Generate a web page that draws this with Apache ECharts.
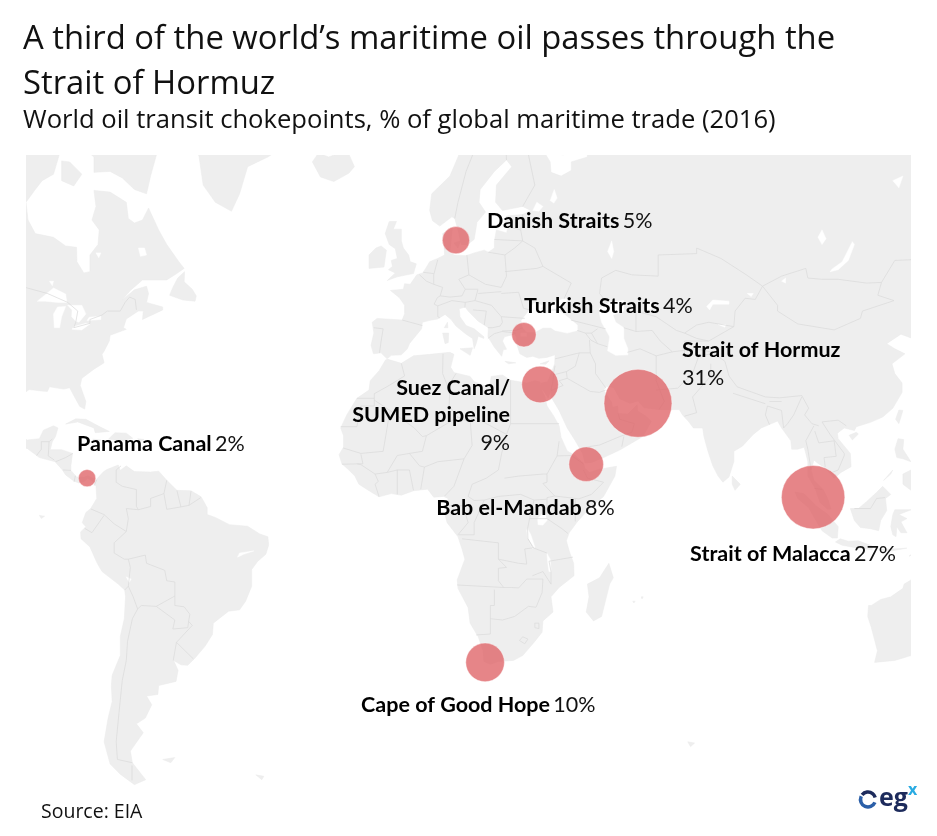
<!doctype html>
<html>
<head>
<meta charset="utf-8">
<style>html,body{margin:0;padding:0;background:#fff}#main{width:937px;height:836px}</style>
</head>
<body>
<div id="main"></div>
<script src="https://cdn.jsdelivr.net/npm/echarts@6/dist/echarts.min.js"></script>
<script>
// chokepoint data
var pointNames = ['Danish Straits', 'Turkish Straits', 'Strait of Hormuz', 'Suez Canal/\nSUMED pipeline', 'Panama Canal', 'Bab el-Mandab', 'Strait of Malacca', 'Cape of Good Hope'];
var pointShares = [5, 4, 31, 9, 2, 8, 27, 10];
var pointLons = [11.5, 28.3, 56.5, 32.3, -79.7, 43.7, 99.8, 18.7];
var pointLats = [56.1, 40.7, 26.6, 30.7, 9, 12.4, 4.3, -34.4];

// label placement relative to the bubble centre: dx, dy, align, share on own line
var labelPlacement = [
    [31, -19, 'left', false], [0, -29, 'left', false], [44, -39, 'left', true], [-30, 31, 'right', true],
    [-10, -34, 'left', false], [-150, 44, 'left', false], [-123, 57, 'left', false], [-124, 43, 'left', false]
];

// base map, rough outlines in lon/lat
var americas = [[-110,72],[-95,70],[-88,68],[-86.6,66.2],[-88,64.2],[-90.8,63.5],[-92.5,62.5],[-94.8,61],[-94.3,58.8],[-92.5,57],[-88,56.5],[-85,55.3],[-82.3,55.1],[-82.2,53],[-80.5,51.3],[-79,51.5],[-79,54],[-77,55.5],[-76.7,57.5],[-78.5,58.8],[-77.5,60.5],[-78,62.4],[-74,62.2],[-70,61],[-69.5,59],[-68,58.4],[-66,58.8],[-64.5,60.3],[-62,57.5],[-60,55.5],[-57,53],[-55.7,52],[-58,51],[-60,50.2],[-66,50.2],[-69,48.5],[-71,46.9],[-68,48.6],[-65,49.2],[-64.5,48],[-65,46.5],[-61,45.7],[-61,45.2],[-66,43.5],[-65.8,45],[-67,45],[-70,43.6],[-70.7,42],[-70,41.7],[-74,40.6],[-74.2,39.5],[-75.5,37.5],[-76,36.9],[-75.5,35.2],[-78,33.9],[-81,32],[-81.4,30.5],[-80,27],[-80.3,25.3],[-81.5,25.9],[-82.8,28],[-84,30],[-85.5,29.7],[-89,30.2],[-89.5,29.2],[-91,29.3],[-94,29.6],[-97,27.8],[-97.5,25],[-97.8,22.4],[-96,19],[-94.5,18.2],[-91.5,18.5],[-90.5,20.5],[-88,21.5],[-86.9,21],[-87.5,19],[-88.3,17.8],[-88.8,15.9],[-86,15.9],[-83.3,15],[-83.7,12],[-83.7,10.9],[-82.3,9.3],[-80.5,9.2],[-79.5,9.6],[-77.5,8.6],[-75.6,10.6],[-74.8,11.1],[-72,12.2],[-71.5,10.9],[-70,12],[-68,10.6],[-64,10.5],[-62,10.7],[-60,8.5],[-57.5,6],[-54,5.9],[-51.5,4.4],[-50,1.7],[-50,0],[-48,-0.7],[-44.5,-2.5],[-40,-2.9],[-37,-4.8],[-35,-5.5],[-34.8,-7.5],[-35.5,-9.8],[-37.5,-11.5],[-39,-13.5],[-39,-17.5],[-40.5,-21],[-42,-23],[-44.7,-23.3],[-48.5,-26],[-48.7,-28.5],[-50.5,-31],[-53,-33.5],[-54.8,-35],[-56.5,-34.9],[-58.3,-34],[-57.2,-36],[-57.7,-38.2],[-62,-39],[-62.2,-40.7],[-65,-41],[-63.7,-42.6],[-65.3,-45],[-67.5,-46],[-65.8,-47.5],[-69,-50.5],[-68.5,-52.3],[-65.2,-54.8],[-68,-55.5],[-71.5,-54],[-74,-52.5],[-75.5,-49],[-74.5,-45],[-73.5,-42],[-73.7,-39],[-73.5,-37],[-71.5,-33],[-71.5,-29],[-70.5,-25],[-70.2,-20],[-70.4,-18.4],[-72,-17],[-76,-14],[-77.2,-12],[-79,-8],[-81.2,-6],[-81.3,-4.3],[-80,-3],[-80.9,-2],[-80,0.5],[-78.8,1.5],[-77.3,4],[-77.5,7],[-78.5,8.4],[-79.6,8.9],[-80.4,8.2],[-81.7,7.8],[-83,8.3],[-85,9.8],[-85.8,11],[-87.6,13],[-91.5,14],[-94.5,16.2],[-100,16.5],[-110,25]];
var africa = [[-5.9,35.8],[-5.3,35.9],[-2,35.1],[1,36.6],[5,36.9],[10,37.3],[11,36.9],[10.2,34.3],[11,33.2],[15,32.4],[16,31.3],[19,30.3],[20,31],[20.2,32.4],[23,32.7],[25,31.6],[29,31],[31,31.5],[32.3,31.2],[32.5,30],[33.5,28],[34,26],[35.5,24],[37,21.5],[37.5,18.8],[39,15.6],[41,14.5],[43.1,12.6],[43.3,11.5],[44.5,10.4],[47,11.2],[51.2,11.9],[50.8,9.5],[48,4.5],[44,1],[41.5,-1.8],[39.5,-4.5],[38.8,-6.5],[39.5,-9],[40.6,-12],[40.7,-15],[37,-17.8],[35,-20],[35.5,-23.5],[33,-25.5],[32.8,-28],[31,-30],[28,-33],[25.7,-34],[22,-34.2],[20,-34.8],[18.4,-34.2],[18.2,-32],[17,-29],[15,-26],[14.5,-22.5],[12,-18],[11.8,-16],[13.7,-11],[13,-8.5],[12,-5.5],[9.3,-2],[8.8,0],[9.8,2],[9.5,4],[8.5,4.5],[6,4.3],[4.5,6.3],[1,5.9],[-2,4.8],[-4.5,5.2],[-7.5,4.4],[-9.5,5.6],[-12.5,7.5],[-13.5,9.5],[-15,11],[-16.7,12.5],[-17.4,14.7],[-16.3,16.5],[-16.3,19.2],[-17,21],[-15.5,24],[-13,27.7],[-10,29.5],[-9.7,31.5],[-7.5,33.6]];
var eurasia = [[32.6,30],[34.3,27.8],[35,29.5],[35,28],[37,25],[39,21],[41,18],[42.8,15],[43.4,12.7],[45,12.8],[48,14],[52,15.8],[55,17.5],[57.7,19],[59.8,22.5],[58.5,23.7],[56.4,24.9],[56.3,26.3],[55.2,25.3],[54,24.2],[51.6,24.3],[51.5,26],[50.2,25.7],[50,26.8],[48,29.5],[48.8,30.3],[50.5,30],[52,27.6],[54.5,26.6],[56.5,27.1],[58,25.6],[61.5,25.2],[64.5,25.2],[66.7,25.2],[67.5,24],[69,22.5],[70.2,21],[72.5,21],[72.8,19],[73.8,15.5],[75,12],[76.3,9.5],[77.5,8],[79,9.3],[80.2,13],[80.2,15.5],[82.3,16.7],[85,19.5],[87,21],[89,21.8],[91,22.6],[92,21],[94.3,18],[94.5,16],[96,16],[97.6,16.5],[98.5,13],[98.5,9.5],[100.3,6.5],[101.5,3],[103.4,1.3],[104.2,1.4],[103.4,4],[102.3,6.2],[100,8.5],[99.3,11],[100,13.4],[101,12.6],[102.8,11.5],[105,9],[106.7,10.4],[109.2,11.8],[109,15],[106,18.5],[105.8,19.8],[107.5,21],[110,20.4],[110.5,21.3],[114,22.3],[117,23.5],[119.5,25.5],[121.8,29],[121.8,31],[120,33],[119.3,35],[122.5,37],[120,38],[118,39],[121.5,40.8],[124.3,40],[125.2,38],[126.5,37],[126.5,34.5],[129.5,35.2],[129.5,37],[127.5,39.8],[130,42.5],[135,44],[140,48],[141,53],[137,54],[135,55],[142,59],[150,59.5],[160,61],[165,66],[180,66],[180,72],[60,72],[44,68],[44,66],[40,65.5],[40,64.6],[37.5,64],[35,64.4],[34.8,65.5],[33,66.7],[38,66.2],[41,66.7],[41,69],[33,69.5],[25,71],[15,69],[12,66],[10,64],[5.5,62],[5,60],[5.7,58.7],[7.5,58],[10.5,59.2],[11.2,59],[12,57.5],[12.8,55.5],[14.3,55.5],[16,56.2],[16.7,58.5],[18.8,59.8],[17.2,61],[17.5,62.5],[21,64.5],[24,65.7],[25.3,65],[21.5,63],[21.3,61],[23,60],[25,60.2],[28,60.5],[30,60],[28,59.5],[24,59.3],[23.5,58.5],[24.4,57.9],[24,57.1],[21.5,57.5],[21,56],[21,55],[19.5,54.4],[18.5,54.7],[16,54.3],[14,53.9],[11,54],[10,54.5],[10.3,56],[10.6,57.7],[8.2,57],[8.6,55],[8.7,54],[7,53.5],[5,53],[4,52],[3.3,51.3],[1.8,51],[0.2,49.5],[-1.2,49.6],[-1.5,48.7],[-4.7,48.5],[-2.5,47.3],[-1.2,46],[-1.2,44.5],[-1.8,43.4],[-8,43.7],[-9.2,43],[-8.8,41],[-9.5,38.7],[-8.9,37],[-7,37.2],[-6.3,36.6],[-5.5,36],[-4.5,36.7],[-2,36.8],[-0.5,38],[0,39],[3,41.8],[3.2,43],[4.8,43.3],[7,43.6],[8.8,44.4],[10.3,43.5],[11.5,42.3],[14,40.8],[15.6,40],[16,38],[16.5,39],[17,40.4],[18.4,40],[18.4,40.3],[16,41.8],[14,42.4],[12.5,44],[12.3,45.4],[13.8,45.7],[14.5,45],[17,43.2],[19.5,42],[19.4,40.3],[21,38.3],[22.8,36.5],[23.2,37.8],[24,37.9],[23,39.5],[23.5,40.3],[26,40.8],[26.5,40.2],[26.5,39],[27.3,37],[29,36.3],[30.5,36.5],[32,36.1],[34,36.3],[36,36.8],[35.9,35],[35,33],[34.2,31.3],[32.6,31]];
var greenland = [[-55,70],[-52,66],[-51,63],[-48,61],[-44,59.9],[-42,62],[-40,65],[-35,66],[-25,68.5],[-22,70],[-40,75]];
var islands = [
    [[-85,72],[-78,70],[-66,70],[-62,67],[-64,64],[-65,62],[-68,62.5],[-71,63.8],[-74,64.5],[-78,64.4],[-78,66],[-84,68]],
    [[-86,65.6],[-84,65.5],[-81,64.2],[-83,62.9],[-86,63.5]],
    [[-59.3,47.7],[-56,46.9],[-53,46.7],[-52.7,47.6],[-53.7,48.7],[-55.7,49.9],[-55.6,51.5],[-57.3,50.5],[-58.5,49]],
    [[-24,65.5],[-22,63.9],[-18.7,63.4],[-15,64.3],[-13.6,65],[-15,66.3],[-16.5,66.5],[-20,66],[-22.5,66.4]],
    [[-85,21.9],[-82.5,23.1],[-80,23],[-77,21.5],[-74.2,20.2],[-77.7,19.9],[-78,21],[-82,22.4]],
    [[-74.4,18.4],[-72.8,19.9],[-70,19.8],[-68.4,18.6],[-71,18],[-72,18.1]],
    [[-78.3,18.4],[-76.3,18.2],[-77,17.8]],
    [[-67.2,18.5],[-65.6,18.3],[-66.5,17.9]],
    [[-61,-51.8],[-58,-51.5],[-59,-52.3]],
    [[-38,-54.1],[-36,-54.3],[-36.5,-54.8]],
    [[-91.5,-0.2],[-90.2,-0.4],[-91,-1]],
    [[-5.5,50.1],[-3,50.7],[1,51.2],[1.7,52.7],[0.2,53],[-0.2,54],[-1.5,55],[-2,56],[-2,57.6],[-4,57.6],[-3.2,58.6],[-5,58.6],[-6,57],[-5,55.5],[-3.5,54.9],[-3,53.5],[-4.5,53.2],[-4.2,52.3],[-5.2,51.8],[-3.5,51.3]],
    [[-10,52],[-6.3,52.2],[-6,53.5],[-5.7,54.7],[-7,55.3],[-8.3,55],[-10,54]],
    [[12.5,38],[15.6,38.2],[15,36.7]],
    [[8.2,41],[9.7,41],[9.6,39.2],[8.8,39]],
    [[8.6,42],[9.4,43],[9.5,42]],
    [[23.6,35.5],[26.3,35.2],[24.5,35]],
    [[32.3,35],[34.5,35.6],[33.7,34.9]],
    [[11,55.7],[12.6,56],[12,55]],
    [[49.3,-12],[50.4,-15.5],[49.5,-17],[47.5,-24.5],[45.5,-25.5],[43.7,-23.5],[44.4,-20],[44,-17],[47,-15.5]],
    [[55.2,-21],[55.8,-21],[55.5,-21.4]],
    [[57.3,-20],[57.8,-20],[57.5,-20.5]],
    [[68.8,-49],[70.5,-49.2],[69.5,-49.8]],
    [[79.8,9.5],[81.8,7.5],[80.5,6],[79.8,7.5]],
    [[108.7,19.3],[110.5,20],[111,19.6],[109.5,18.2]],
    [[120.2,23],[121,25.1],[122,25],[121,22]],
    [[120,16],[120.8,18.5],[122.2,18.3],[122,16],[124,13],[122,13.7],[120.5,14]],
    [[122,10],[124,11],[126,9.5],[126,6.5],[124,6],[122,7.5]],
    [[117.2,8.4],[119.5,11],[119,10]],
    [[95.3,5.6],[97.5,5.2],[100.5,2.2],[103.5,0],[106,-3],[105.8,-5.8],[104.5,-5.8],[102,-4],[100.5,-1.5],[98.7,1.7],[96,4]],
    [[105.3,-6.8],[106.5,-6],[108.5,-6.6],[111,-6.5],[114.5,-7.8],[114.4,-8.7],[111,-8.3],[107,-7.6]],
    [[109,1.5],[111,1.5],[113,3.2],[115.5,5.5],[117,7],[119,5],[117.7,4],[118,1],[116.5,-1.5],[116,-4],[114,-3.5],[111.5,-3.2],[110,-1.5]],
    [[119.5,0],[120,1.2],[124,1.2],[121,0],[123,-1],[121.5,-1.8],[123,-4.5],[121.5,-4.5],[120.5,-3],[120.3,-5.5],[119.5,-5],[119,-3]],
    [[116,-8.7],[119,-8.5],[123,-8.3],[119,-9]],
    [[123.5,-10.3],[127,-8.4],[125,-9]],
    [[113.5,-22],[114.2,-22],[116.5,-20.6],[119,-20],[122,-18],[122.3,-17],[124,-16],[126,-14],[130,-12],[135,-12],[140,-17],[142,-11],[146,-19],[153,-26],[150,-37],[145,-39],[138,-35],[135,-34.5],[131,-31.5],[124,-33],[120,-34],[115,-34.4],[115.7,-32],[114.2,-27],[113.3,-24.5]]
];
// seas and lakes cut out of the land
var waters = [
    [[28,42],[27.7,43.3],[29.7,45.2],[30.7,46.4],[33,46],[32.5,45.4],[33.5,44.5],[35.4,45],[37,45],[38.5,44.3],[41.5,42.5],[41.5,41.5],[39,41],[36,41.5],[35,42],[33,42],[31,41.2],[29,41.2]],
    [[35,45.4],[35,46.3],[38,47.1],[39.3,47.1],[37.5,45.5]],
    [[27.5,40.4],[29,40.4],[29,41],[27.5,41]],
    [[47,45.5],[49,46.5],[53,46.8],[53,45],[51,44.5],[50.3,44.3],[51,43],[53,42],[53,40],[54,38],[54,36.8],[51,36.7],[49,37.6],[49.5,40.3],[47.5,43],[47,44.5]],
    [[58.5,46.5],[60,46.5],[60,45.5],[58.5,45]],
    [[73.5,45.8],[75,46.9],[79,46.7],[79,46.2],[75,46.2],[74.2,45.2]],
    [[83.5,48],[85,48],[84.5,47.5]],
    [[76.3,42.6],[78.2,42.6],[78,42.1]],
    [[104,51.5],[104.5,51.9],[107,53],[109.5,55.9],[110,55.5],[108.5,53.2],[106,51.8]],
    [[101,56.5],[102,57.5],[103,56.3],[102,55.5]],
    [[92,50],[93,50.5],[93,49.7]],
    [[119.5,63.5],[122,64],[121,62.7]],
    [[49,54.5],[50,56],[50.5,54.5],[50,53.5]],
    [[30.5,60],[31.5,61],[33,60.5],[32,59.9]],
    [[34.8,61.2],[35.8,62.5],[36.5,61.5],[35.7,60.9]],
    [[-67,55],[-65.5,55],[-65,54],[-66.5,53.8]],
    [[-77.5,54.3],[-76.3,54.3],[-76.8,53.6]],
    [[-89,50],[-88,50],[-88.3,49.3]],
    [[-92,46.7],[-88,48.9],[-85,47.9],[-84.7,46.5],[-87,46.5],[-90,46.7]],
    [[-87.8,42],[-86.5,42],[-86,44],[-85,45.8],[-87,45.7],[-88,44.5]],
    [[-84.5,46],[-81,46],[-80,44.5],[-81.7,43],[-82.5,43.2],[-83.5,44],[-83.4,45.2]],
    [[-83.4,41.7],[-81,41.6],[-79,42.7],[-80,42.8],[-83,42.2]],
    [[-79.7,43.3],[-76.3,43.5],[-76.3,44.1],[-79.2,43.9]],
    [[-70,-15.3],[-68.8,-15.8],[-69.3,-16.6]],
    [[-38.5,-9],[-42,-9.5],[-42.5,-10.5],[-41,-9.8]],
    [[31.7,-1],[33,0.3],[34.2,0],[34,-1.5],[33,-2.6],[31.8,-2.5]],
    [[29.2,-3.5],[30,-5],[31,-8],[30.5,-8.5],[29.3,-6],[29,-4]],
    [[34,-9.6],[34.8,-11],[35,-14],[34.5,-14],[34.2,-12]]
];
var borders = [
    [[-95,49],[-89.5,48],[-84.5,46.5],[-82,45],[-82.5,43],[-83,42],[-79,42.8],[-79,43.5],[-76,44.3],[-74.7,45],[-71.5,45],[-70.3,46.5],[-69.2,47.4],[-67.8,47],[-67.5,45.2]],
    [[-92.2,14.5],[-91,16],[-91,17.8],[-89.1,17.8],[-88.3,18.4]], [[-89.1,17.8],[-89.2,15.9],[-89.3,14.4],[-87.8,13.4]],
    [[-87.5,13],[-85,14],[-83.2,15]], [[-85.7,11],[-83.7,10.9]], [[-82.9,8.1],[-82.6,9.6]], [[-77.9,7.2],[-77.3,8.6]],
    [[-71.3,12],[-72.5,11],[-72.5,8],[-71,7],[-67.5,6.2],[-67.5,2],[-67,1.2],[-70,1.5],[-69.5,-1],[-70,-4.2],[-73,-2.3],[-75.5,0],[-78.8,1.4]],
    [[-75.5,-0.2],[-78.5,-4.5],[-80.3,-3.4]], [[-70,-4.2],[-73,-7],[-73,-9.5],[-70.5,-11],[-69.5,-11],[-69,-13],[-69.5,-17.5],[-70.4,-18.4]],
    [[-69.5,-11],[-65.3,-10],[-65,-12],[-60.5,-13.7],[-60,-16.2],[-58,-16.5],[-58,-19.8],[-62.6,-22.2],[-66.3,-22],[-67.2,-22.8]],
    [[-69.5,-17.5],[-68.3,-20],[-67.2,-22.8],[-68.5,-25],[-69.7,-30],[-70,-34],[-71,-38],[-71.8,-44],[-72.5,-49],[-72.2,-51.8],[-68.5,-52.3]], [[-68.6,-52.7],[-68.6,-54.9]],
    [[-58,-19.8],[-58,-22],[-55.7,-22.3],[-54.3,-24],[-54.6,-25.6],[-53.7,-26.5],[-57.6,-30.2],[-53.4,-33.7]], [[-62.6,-22.2],[-58,-25.3],[-58.5,-27.3],[-54.8,-27],[-54.6,-25.6]], [[-57.6,-30.2],[-58.4,-34]],
    [[-60,8.5],[-60.7,5.2],[-60,1.3],[-56.5,1.9],[-54.5,2.3],[-51.6,4.2]], [[-67,1.2],[-64,2],[-64,4],[-60.7,5.2]], [[-57.5,6],[-56.5,1.9]], [[-54.5,2.3],[-54,5.8]],
    [[-2,35.1],[-1.2,32.5],[-5,30.5],[-8.7,28.7],[-8.7,26],[-12,26],[-13,21.3],[-17,21.3]], [[-8.7,27.7],[-13,27.7]], [[-8.7,27.3],[-4.8,25],[-6.5,15.5],[-12,15],[-16.4,16.3]],
    [[-4.8,25],[1.2,21],[3.2,19],[4.2,19.2],[12,23.5],[9.8,26],[10,30],[9.5,30.2],[8.2,33],[8.3,37]], [[9.5,30.2],[11.5,33]], [[25,31.6],[25,22],[37,22]],
    [[25,22],[24,19.5],[16,23.5],[14.2,22.6],[12,23.5]], [[15,23],[15.5,16.9],[13.5,13.7],[11,7],[8.7,4.6]], [[24,19.5],[22.8,15],[22,11],[19,9],[15.5,7.5],[14.5,4.5]],
    [[23.5,9],[27,9.5],[33,10],[34,10]], [[3.7,11.7],[7,13],[13.5,13.7]], [[2.8,6.3],[3.7,11.7]],
    [[14.5,4.5],[16,3.5],[18.5,3.6],[22,4.5],[27.5,5],[30.8,3.6],[29.7,-1],[29.2,-3.5],[29.3,-6],[30.7,-8.2],[28.5,-8.5],[29,-12.2],[27,-12],[22,-11],[22,-7],[13,-6]],
    [[11.8,-17.2],[23.3,-17.8],[25.2,-17.8],[27,-17.9],[29,-15.8],[33,-15.8],[32.8,-19],[31.3,-22.4],[29.4,-22.2],[26,-24.5],[23,-25.3],[20,-25]],
    [[22,-11],[24,-13],[22,-13.2],[22,-16.2],[23.3,-17.8]], [[21,-18.3],[21,-22],[20,-22],[20,-28.4],[16.5,-28.6]],
    [[30.4,-15],[33,-14],[35,-17],[35,-14],[34.5,-11.5],[40.4,-10.5]], [[29.3,-6],[30.5,-8.2],[34,-9.5]], [[34,-1],[37.7,-3.5],[39.2,-4.7]], [[29.7,-1],[34,-1],[34,4.2],[35.9,4.6],[41,4],[41.9,3.9],[45,5],[48,8],[44,9],[43,11]],
    [[41,-1.7],[41,4]], [[36.5,14.4],[40,14.5],[43,12.5]], [[37,17.9],[36.5,14.4],[34,10],[34,8],[33,7.7],[35.9,4.6]], [[30.8,3.6],[33.9,3.8]],
    [[28,-29],[29.3,-29.5],[28.5,-30.5],[27.2,-29.8],[28,-29]], [[31,-26],[32,-26],[32,-27.2],[31,-27],[31,-26]],
    [[-13,12.5],[-12,12.3],[-8.5,10],[-7.7,8.2],[-8.5,7.5],[-7.5,4.4]], [[-8.5,10],[-5.5,10.4],[-3,11],[-3,5]], [[-3,11],[0,11],[1,6]], [[0,15],[2.5,12],[3.7,11.7]], [[-5.5,10.4],[-3,14.5],[0,15],[3.2,15.5],[4.2,19.2]],
    [[9.8,2.2],[13.3,2.2],[14.5,-2],[12,-5]], [[-12,14.8],[-11.5,12.5],[-16.7,12.4]], [[18.5,3.6],[16,-2],[16,-5],[12.2,-5]],
    [[-1.8,43.4],[3.2,42.4]], [[-8.8,42],[-6.5,41.8],[-7,39.5],[-7.4,37.2]], [[2.5,51],[4.2,50],[6,49.5],[8.2,49],[7.6,47.6],[6.9,47.3],[6.1,46.2],[7,45.9],[7,44],[7.5,43.8]],
    [[7,53.3],[6,51],[6,49.5]], [[3.4,51.4],[6,51.2]], [[8.7,54.9],[9.8,54.8]], [[14.2,54],[14.7,51],[12.2,50.3],[13.8,48.7],[13,47.6],[10,47.4],[7.6,47.6]],
    [[14.7,51],[18.8,49.5],[22.7,49],[24,50.8],[23.6,54],[19.5,54.4]], [[7,45.9],[10.5,46.8],[13.8,46.5],[13.7,45.6]], [[16.9,48.6],[16.2,46.8],[13.8,46.5]], [[13.8,48.7],[17,48.7]], [[17,48],[22.7,48.3]],
    [[16.2,46.8],[20.3,46],[22.7,44],[23,43],[22.4,42.3],[20.5,42],[19.4,42]], [[22.7,48],[27,48.2],[28.2,45.5],[29.7,45.2]], [[22.7,44],[28.5,43.7]], [[22.9,41.4],[26.3,41.5],[28,42]], [[19.4,40],[21,40.9],[22.9,41.3],[26.3,41]], [[15.7,45.2],[19,45],[18.5,42.5]],
    [[23.6,51.5],[31.5,52],[33,52.3],[40,49.7],[38.2,47.1]], [[33,52.3],[31,55],[28,56]], [[21,56.2],[28,56]], [[24.4,57.9],[27.5,57.5]], [[28,59.5],[27.5,57.5],[28,56],[26,55],[23.6,54]],
    [[28,60.5],[31,63],[29,67],[29,69.5],[25,69]], [[11.2,59],[12,61],[14,64.5],[18,68.5],[20.5,69]], [[24,65.7],[23.7,68],[20.5,69]],
    [[36,36],[42,37.2],[44.7,37.2],[44.5,39.7]], [[41.5,41.5],[43.5,41],[44.8,39.7]], [[39.9,43.4],[48.5,41.8]], [[46.5,41.8],[45,41]], [[43.5,41],[45,41],[46.5,39],[44.8,39.7]], [[46.5,39],[48.9,38.4]],
    [[44.7,37.2],[46,35],[46,33],[48.5,30]], [[42,37.2],[41,34.5],[38.8,33.4],[39,32],[44.7,29.2],[47,29],[48.5,29.5]], [[35.5,32.7],[38.8,33.4]], [[39,32],[37,31.5],[38,30.5],[35,29.4]], [[36,34.6],[35.7,33.3]], [[35,29.5],[35.5,31.5],[35.7,33.3]],
    [[42.8,16.4],[47,17],[52,19],[55,20],[55.6,22],[52,23],[51.6,24.3]], [[52.5,16.6],[53,19]], [[53.9,37.3],[57,38],[61,36.6],[61,31.5],[63,27],[61.7,25.2]], [[61,29.5],[66.3,29.9],[70,33],[71.5,36.5],[74.5,37]], [[61,36.6],[65,37.4],[71,38],[74.9,37.3]],
    [[53,42],[56,41.3],[56,45],[61,44],[66,41.5],[68,41],[71,42.5],[74,43],[80.2,42.2],[80.5,45],[83,47.2],[85.5,47],[87.3,49.2]], [[49,46.3],[47,48],[47.5,50.5],[51,51.7],[55,51],[61.5,50.8],[61.5,54],[71,54.2],[71,55],[77,53.5],[83.3,51],[87.3,49.2]],
    [[87.3,49.2],[92,50.8],[98,52],[98.5,50.5],[102,50.3],[106,50.3],[113,49.7],[116.7,49.8]], [[87.3,49.2],[91,46],[91,45],[96,42.7],[105,41.6],[111.5,43.7],[112,45],[119.8,46.8],[115.8,47.7],[116.7,49.8]],
    [[116.7,49.8],[120,53.2],[124,53.3],[127.5,50],[131,47.7],[135,48.4],[131,43],[130.6,42.4]], [[124.3,40],[128,41.5],[130.6,42.4]],
    [[56,41.3],[60,41.5],[62,39.5],[65,37.4]], [[68,41],[71,40],[74,39.5],[80.2,42.2]], [[68,37.2],[68,39.5],[74,39.5]],
    [[68,23.7],[71,24.5],[70,28],[74.5,32.5],[74.5,35]], [[74.9,37.3],[78,35.5],[79,32.5],[81,30.2],[88,28],[91.5,27.8],[97,28.3],[98.7,25.5],[97.7,24],[99.5,22],[101.2,21.5]],
    [[80,28.8],[88,26.5]], [[89,27],[92,27]], [[88.5,26],[88,24],[89,21.8]], [[88.5,26],[92,25],[92.5,21]], [[97,28],[95,24],[93.5,22],[92.5,21]],
    [[100,21.5],[98,18],[98.5,16],[99.3,11]], [[100.2,20.3],[101.2,17.5],[105,18],[105.5,14.3],[102.5,14],[102.8,11.7]], [[102,22.4],[104,19.5],[107.5,15],[107.5,14.5],[106,11],[104.5,10.4]], [[102,22.4],[106,22.8],[108,21.5]],
    [[100.1,6.5],[102.1,6.2]], [[110,1.5],[114,1.5],[115.5,4],[117.6,4.2]]
];

function mercY(lat) {
    return Math.log(Math.tan(Math.PI / 4 + lat * Math.PI / 360)) * 180 / Math.PI;
}

echarts.registerMap('world', {
    type: 'FeatureCollection',
    features: [
        { type: 'Feature', properties: { name: 'land' }, geometry: { type: 'MultiPolygon',
            coordinates: [americas, africa, eurasia, greenland].concat(islands).map(function (r) { return [r]; }) } },
        { type: 'Feature', properties: { name: 'water' }, geometry: { type: 'MultiPolygon',
            coordinates: waters.map(function (r) { return [r]; }) } },
        { type: 'Feature', properties: { name: 'borders' }, geometry: { type: 'MultiLineString', coordinates: borders } }
    ]
});

var titleFont = '"Open Sans", sans-serif';
var labelFont = 'Lato, sans-serif';

var points = pointNames.map(function (name, i) {
    var p = labelPlacement[i];
    var nameLines = name.split('\n').map(function (s) { return '{b|' + s + '}'; }).join('\n');
    return {
        name: name,
        value: [pointLons[i], pointLats[i], pointShares[i]],
        label: {
            offset: [p[0], p[1]],
            align: p[2],
            formatter: nameLines + (p[3] ? '\n' : ' ') + '{r|' + pointShares[i] + '%}'
        }
    };
});

var chart = echarts.init(document.getElementById('main'));

chart.setOption({
    animation: false,
    backgroundColor: '#fff',
    title: [
        {
            text: 'A third of the world\u2019s maritime oil passes through the\nStrait of Hormuz',
            left: 23, top: 17, padding: 0,
            textStyle: { fontFamily: titleFont, fontSize: 32.8, fontWeight: 'normal', color: '#111', lineHeight: 45 }
        },
        {
            text: 'World oil transit chokepoints, % of global maritime trade (2016)',
            left: 23, top: 108, padding: 0,
            textStyle: { fontFamily: titleFont, fontSize: 25.6, fontWeight: 'normal', color: '#111' }
        },
        {
            text: 'Source: EIA',
            left: 41, top: 802, padding: 0,
            textStyle: { fontFamily: titleFont, fontSize: 19.5, fontWeight: 'normal', color: '#111' }
        }
    ],
    geo: {
        map: 'world',
        silent: true,
        clip: true,
        left: 26, top: 155, width: 885, height: 645,
        boundingCoords: [[-94.8, 66.2], [124, -57.6]],
        projection: {
            project: function (c) { return [c[0], -mercY(c[1])]; },
            unproject: function (p) { return [p[0], (Math.atan(Math.exp(-p[1] * Math.PI / 180)) - Math.PI / 4) * 360 / Math.PI]; }
        },
        itemStyle: { areaColor: '#eeeeee', borderColor: '#ebebeb', borderWidth: 0.5 },
        label: { show: false },
        regions: [
            { name: 'water', itemStyle: { areaColor: '#fff', borderColor: '#fff', borderWidth: 0.5 } },
            { name: 'borders', itemStyle: { areaColor: 'none', borderColor: '#dadada', borderWidth: 0.7 } }
        ]
    },
    series: [{
        type: 'scatter',
        coordinateSystem: 'geo',
        silent: true,
        symbolSize: function (v) { return 12.2 * Math.sqrt(v[2]); },
        itemStyle: { color: 'rgba(221,92,96,0.75)', opacity: 1, borderColor: 'rgba(255,255,255,0.4)', borderWidth: 1 },
        label: {
            show: true,
            position: 'inside',
            color: '#000',
            rich: {
                b: { fontFamily: labelFont, fontSize: 21.5, fontWeight: 'bold', color: '#000', lineHeight: 27.5 },
                r: { fontFamily: labelFont, fontSize: 21.5, color: '#111', lineHeight: 27.5 }
            }
        },
        data: points
    }],
    graphic: [
        { type: 'arc', shape: { cx: 868, cy: 799.5, r: 7.5, startAngle: 0.4, endAngle: 3.6 }, style: { stroke: '#2b5fa8', fill: null, lineWidth: 3.5 } },
        { type: 'arc', shape: { cx: 868, cy: 799.5, r: 7.5, startAngle: 3.8, endAngle: 6 }, style: { stroke: '#1d2b5c', fill: null, lineWidth: 3.5 } },
        { type: 'text', left: 879, top: 786, style: { text: 'eg', font: 'bold 25px "Open Sans", sans-serif', fill: '#1d2b5c' } },
        { type: 'text', left: 908, top: 782, style: { text: 'x', font: 'bold 16px "Open Sans", sans-serif', fill: '#29abe2' } }
    ]
});

window.onresize = chart.resize;
</script>
</body>
</html>
